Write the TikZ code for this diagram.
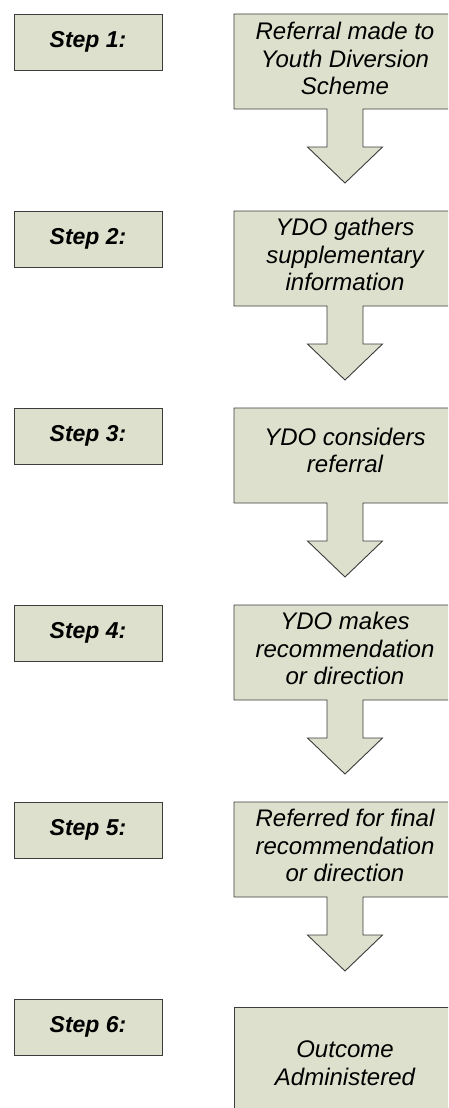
\documentclass[tikz,border=0pt]{standalone}
\usepackage{fontspec}
\setmainfont{Liberation Sans}
\usepackage{tikz}
\usetikzlibrary{positioning}

\definecolor{boxfill}{RGB}{221,224,204}
\definecolor{boxline}{RGB}{60,60,60}

\tikzset{
  stepbox/.style={draw=boxline, fill=boxfill, line width=0.9pt,
    minimum width=148pt, minimum height=56pt, inner sep=0pt,
    font=\fontsize{23}{27}\selectfont\bfseries\itshape},
  calltext/.style={align=center, inner sep=0pt,
    font=\fontsize{24}{27.5}\selectfont\itshape},
  calloutline/.style={draw=boxline, fill=boxfill, line width=0.9pt, line join=miter},
  lastbox/.style={draw=boxline, fill=boxfill, line width=0.9pt,
    minimum width=222pt, minimum height=112pt, inner sep=0pt, align=center,
    font=\fontsize{24}{27.5}\selectfont\itshape},
  pics/downcallout/.style={code={
    \draw[calloutline] (-111,-47.5) -- (111,-47.5) -- (111,47.5) -- (18,47.5)
      -- (18,85.5) -- (37.5,85.5) -- (0,121.5) -- (-37.5,85.5) -- (-18,85.5)
      -- (-18,47.5) -- (-111,47.5) -- cycle;
  }}
}

\begin{document}
\begin{tikzpicture}
	[x=1pt, y=-1pt, on grid, node distance=197pt]
   \useasboundingbox (0,0) rectangle (448,1108);
   \clip (0,0) rectangle (448,1108);

   % step labels
   \node[stepbox] (s1) at (88,42) {Step 1:};
   \node[stepbox] (s2) [below=of s1] {Step 2:};
   \node[stepbox] (s3) [below=of s2] {Step 3:};
   \node[stepbox] (s4) [below=of s3] {Step 4:};
   \node[stepbox] (s5) [below=of s4] {Step 5:};
   \node[stepbox] (s6) [below=of s5] {Step 6:};

   % callout centres
   \coordinate (b1) at (345,61.5);
   \coordinate (b2) at (345,258.5);
   \coordinate (b3) at (345,455.5);
   \coordinate (b4) at (345,652.5);
   \coordinate (b5) at (345,849.5);

   \pic at (b1) {downcallout};
   \pic at (b2) {downcallout};
   \pic at (b3) {downcallout};
   \pic at (b4) {downcallout};
   \pic at (b5) {downcallout};

   \node[calltext] (c1) at ([yshift=3pt]b1) {Referral made to\\Youth Diversion\\Scheme};
   \node[calltext] (c2) at ([yshift=4pt]b2) {YDO gathers\\supplementary\\information};
   \node[calltext] (c3) at ([yshift=5pt]b3) {YDO considers\\referral};
   \node[calltext] (c4) at ([yshift=4pt]b4) {YDO makes\\recommendation\\or direction};
   \node[calltext] (c5) at ([yshift=4pt]b5) {Referred for final\\recommendation\\or direction};

   % last step
   \node[lastbox] (c6) at (345,1063) {Outcome\\Administered};
\end{tikzpicture}
\end{document}
